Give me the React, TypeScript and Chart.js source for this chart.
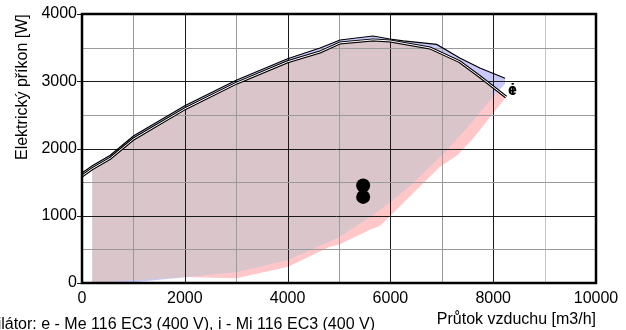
import React, { useEffect, useRef } from 'react';
import { Chart, registerables } from 'chart.js';
Chart.register(...registerables);

// Envelope "e" (Me 116 EC3) – upper boundary
const eTopFlow = [0, 200, 550, 1000, 2000, 3000, 4000, 4630, 5020, 5660, 5990, 6250, 6900, 7350, 7740, 8230];
const eTopPower = [1635, 1745, 1900, 2185, 2635, 3015, 3335, 3495, 3613, 3673, 3628, 3600, 3548, 3345, 3197, 3045];
// Envelope "e" – lower boundary
const eBotFlow = [200, 1000, 2000, 3000, 4000, 5000, 5600, 6000, 6440, 7100, 7500, 7990, 8230];
const eBotPower = [0, 10, 85, 164, 342, 684, 981, 1204, 1487, 1978, 2320, 2766, 2960];
// Envelope "i" (Mi 116 EC3) – upper boundary
const iTopFlow = [0, 200, 550, 1000, 2000, 3000, 4000, 4630, 5020, 5660, 5990, 6770, 7350, 7750, 8250];
const iTopPower = [1590, 1700, 1855, 2140, 2590, 2970, 3290, 3435, 3570, 3615, 3600, 3495, 3290, 3063, 2766];
// Envelope "i" – lower boundary
const iBotFlow = [200, 1000, 2000, 3000, 4000, 4820, 5000, 5600, 5800, 6000, 6500, 6960, 7300, 7610, 8250];
const iBotPower = [8, 40, 89, 70, 238, 540, 570, 790, 850, 1000, 1380, 1725, 1900, 2150, 2766];
// Common (overlap) region – lower boundary
const mBotFlow = [200, 1000, 2000, 3000, 4000, 5000, 5600, 6000, 6440, 7100, 7500, 7990];
const mBotPower = [8, 40, 89, 164, 342, 684, 981, 1204, 1487, 1978, 2320, 2766];
// Working points
const dotFlow = [5470, 5470];
const dotPower = [1450, 1280];

const xTicks = [0, 2000, 4000, 6000, 8000, 10000];
const yTicks = [0, 1000, 2000, 3000, 4000];

const yTitle = 'Elektrický příkon [W]';
const xTitle = 'Průtok vzduchu [m3/h]';
const footnote = 'Ventilátor: e - Me 116 EC3 (400 V), i - Mi 116 EC3 (400 V)';

const pts = (xs: number[], ys: number[]) => xs.map((x, i) => ({ x, y: ys[i] }));

const FONT = "'Liberation Sans', Arial, sans-serif";

export default function App() {
  const ref = useRef<HTMLCanvasElement>(null);
  useEffect(() => {
    const canvas = ref.current!;
    const boundary = (data: any[]) => ({
      data, borderWidth: 0, borderColor: 'rgba(0,0,0,0)', pointRadius: 0, fill: false, order: 50, tension: 0,
    });
    const drawGrid = (chart: any) => {
      const { ctx, chartArea: a, scales } = chart;
      const xs = scales.x;
      const ys = scales.y;
      ctx.save();
      ctx.lineWidth = 1;
      xs.ticks.forEach((t: any) => {
        const v = t.value;
        if (v <= 0 || v >= 10000) return;
        const px = Math.round(xs.getPixelForValue(v)) + 0.5;
        ctx.strokeStyle = v % 2000 === 0 ? '#1a1a1a' : v === 9000 ? '#c4c4c4' : '#9a9a9a';
        ctx.beginPath();
        ctx.moveTo(px, a.top);
        ctx.lineTo(px, a.bottom);
        ctx.stroke();
      });
      ys.ticks.forEach((t: any) => {
        const v = t.value;
        const py = Math.round(ys.getPixelForValue(v)) + 0.5;
        const major = v % 1000 === 0;
        ctx.strokeStyle = major ? '#1a1a1a' : '#9a9a9a';
        ctx.beginPath();
        ctx.moveTo(major ? a.left - 5 : a.left, py);
        ctx.lineTo(v > 0 && v < 4000 ? a.right : a.left, py);
        ctx.stroke();
      });
      ctx.restore();
    };
    const deco = {
      id: 'deco',
      afterDatasetDraw(chart: any, args: any) {
        if (args.index === 5) drawGrid(chart);
      },
      afterDatasetsDraw(chart: any) {
        const { ctx, chartArea: a, scales } = chart;
        ctx.save();
        ctx.strokeStyle = '#000';
        ctx.lineWidth = 2.5;
        ctx.strokeRect(a.left, a.top, a.right - a.left, a.bottom - a.top);
        ctx.fillStyle = '#000';
        ctx.font = `bold 16px ${FONT}`;
        ctx.textAlign = 'left';
        ctx.textBaseline = 'alphabetic';
        const lx = scales.x.getPixelForValue(8250) + 2;
        const ly = scales.y.getPixelForValue(2766) - 2;
        ctx.fillText('i', lx + 2.5, ly);
        ctx.fillText('e', lx, ly);
        ctx.restore();
      },
      afterDraw(chart: any) {
        const { ctx, chartArea: a } = chart;
        ctx.save();
        ctx.fillStyle = '#000';
        ctx.font = `16px ${FONT}`;
        ctx.textBaseline = 'alphabetic';
        ctx.textAlign = 'right';
        ctx.fillText(xTitle, a.right, 324);
        ctx.fillText(footnote, 375, 329);
        ctx.translate(27, 160);
        ctx.rotate(-Math.PI / 2);
        ctx.textAlign = 'left';
        ctx.fillText(yTitle, 0, 0);
        ctx.restore();
      },
    };
    const chart = new Chart(canvas, {
      type: 'line',
      data: {
        datasets: [
          boundary(pts(iBotFlow, iBotPower)) as any,
          { data: pts(iTopFlow, iTopPower), fill: 0, backgroundColor: '#ffc7c7', borderWidth: 0, borderColor: 'rgba(0,0,0,0)', pointRadius: 0, order: 30, tension: 0 },
          boundary(pts(eBotFlow, eBotPower)),
          { data: pts(eTopFlow, eTopPower), fill: 2, backgroundColor: '#c9c9fa', borderWidth: 0, borderColor: 'rgba(0,0,0,0)', pointRadius: 0, order: 29, tension: 0 },
          boundary(pts(mBotFlow, mBotPower)),
          { data: pts(iTopFlow, iTopPower), fill: 4, backgroundColor: '#d9c5ca', borderWidth: 0, borderColor: 'rgba(0,0,0,0)', pointRadius: 0, order: 28, tension: 0 },
          { data: pts(eTopFlow, eTopPower), fill: false, borderColor: '#000', borderWidth: 1.2, pointRadius: 0, order: 5, tension: 0 },
          { data: pts(iTopFlow, iTopPower), fill: false, borderColor: '#000', borderWidth: 3, pointRadius: 0, order: 4, tension: 0 },
          { data: pts(iTopFlow, iTopPower), fill: false, borderColor: '#fff', borderWidth: 1, pointRadius: 0, order: 3, tension: 0 },
          { data: pts(dotFlow, dotPower), showLine: false, fill: false, pointRadius: 7, pointBackgroundColor: '#000', pointBorderWidth: 0, order: 1 },
        ],
      },
      options: {
        animation: false,
        responsive: false,
        devicePixelRatio: 1,
        events: [],
        layout: { padding: { left: 0, top: 14, right: 30, bottom: 0 } },
        plugins: { legend: { display: false }, tooltip: { enabled: false } },
        scales: {
          x: {
            type: 'linear', min: 0, max: 10000,
            afterFit: (s: any) => { s.height = 47; },
            border: { display: false },
            grid: { color: 'rgba(0,0,0,0)', tickLength: 4, tickColor: 'rgba(0,0,0,0)' },
            ticks: {
              stepSize: 1000, autoSkip: false, maxRotation: 0, padding: 2,
              color: '#000', font: { family: FONT, size: 16 },
              callback: (v: any) => (xTicks.includes(Number(v)) ? String(v) : ''),
            },
          },
          y: {
            type: 'linear', min: 0, max: 4000,
            afterFit: (s: any) => { s.width = 82; },
            border: { display: false },
            grid: { color: 'rgba(0,0,0,0)', tickLength: 4, tickColor: 'rgba(0,0,0,0)' },
            ticks: {
              stepSize: 500, autoSkip: false, padding: 1,
              color: '#000', font: { family: FONT, size: 16 },
              callback: (v: any) => (yTicks.includes(Number(v)) ? String(v) : ''),
            },
          },
        },
      },
      plugins: [deco],
    } as any);
    return () => chart.destroy();
  }, []);
  return (
    <div style={{ position: 'fixed', left: 0, top: 0, width: 626, height: 330, background: '#fff' }}>
      <canvas ref={ref} width={626} height={330} style={{ width: 626, height: 330, display: 'block' }} />
    </div>
  );
}
